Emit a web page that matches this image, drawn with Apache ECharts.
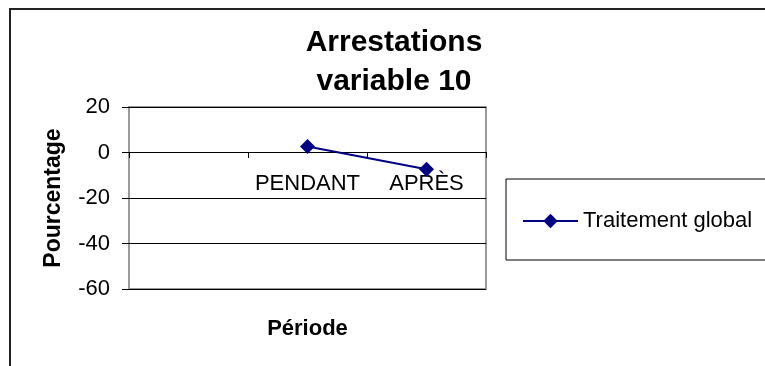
<!DOCTYPE html>
<html lang="fr">
  <head>
    <meta charset="UTF-8" />
    <title>Arrestations variable 10</title>
    <script src="https://cdn.jsdelivr.net/npm/echarts@6.0.0/dist/echarts.min.js"></script>
    <style>
      html, body { margin: 0; padding: 0; background: #fff; }
      #chart { width: 765px; height: 366px; }
    </style>
  </head>
  <body>
    <div id="chart"></div>
    <script>
      // données
      var periodes = ['', 'PENDANT', 'APRÈS']
      var traitementGlobal = [null, 2.6, -7.4]
      var serieNom = 'Traitement global'

      var police = '"Liberation Sans", Arial, sans-serif'
      var chart = echarts.init(document.getElementById('chart'))

      var option = {
        animation: false,
        textStyle: { fontFamily: police },
        title: {
          text: 'Arrestations\nvariable 10',
          left: 394,
          top: 23,
          padding: 0,
          textAlign: 'center',
          textStyle: { fontSize: 30, fontWeight: 'bold', color: '#000', lineHeight: 39, fontFamily: police }
        },
        graphic: [
          {
            // cadre extérieur
            type: 'rect',
            shape: { x: 10, y: 9, width: 800, height: 400 },
            style: { fill: 'none', stroke: '#222', lineWidth: 2 },
            silent: true
          }
        ],
        legend: {
          left: 506,
          top: 179,
          orient: 'vertical',
          data: [serieNom],
          itemWidth: 55,
          itemHeight: 18,
          padding: [31, 60, 28, 16],
          borderColor: '#000',
          borderWidth: 1,
          lineStyle: { width: 2 },
          textStyle: { fontSize: 22, color: '#000', fontFamily: police }
        },
        grid: {
          left: 129,
          right: 279,
          top: 107,
          bottom: 77,
          outerBoundsMode: 'none',
          containLabel: false,
          show: true,
          borderColor: '#999',
          borderWidth: 2,
          backgroundColor: 'transparent'
        },
        xAxis: {
          type: 'category',
          data: periodes,
          boundaryGap: true,
          position: 'bottom',
          offset: -137, // l'axe passe par 0
          name: 'Période',
          nameLocation: 'middle',
          nameGap: 166,
          nameTextStyle: { fontSize: 22, fontWeight: 'bold', color: '#000' },
          axisLine: { onZero: false, lineStyle: { color: '#000', width: 1 } },
          axisTick: { show: true, length: 6, interval: 0, lineStyle: { color: '#000' } },
          axisLabel: { fontSize: 22, color: '#000', margin: 21, interval: 0, hideOverlap: false },
          splitLine: { show: false }
        },
        yAxis: {
          type: 'value',
          min: -60,
          max: 20,
          interval: 20,
          name: 'Pourcentage',
          nameLocation: 'middle',
          nameRotate: 90,
          nameGap: 64,
          nameTextStyle: { fontSize: 23, fontWeight: 'bold', color: '#000' },
          axisLine: { show: false },
          axisTick: { show: true, length: 7, lineStyle: { color: '#000' } },
          axisLabel: { fontSize: 22, color: '#000', margin: 19 },
          splitLine: { show: true, lineStyle: { color: '#000', width: 1 } }
        },
        series: [
          {
            name: serieNom,
            type: 'line',
            data: traitementGlobal,
            symbol: 'diamond',
            symbolSize: 15,
            showSymbol: true,
            connectNulls: false,
            lineStyle: { color: '#000080', width: 2 },
            itemStyle: { color: '#000080' }
          }
        ]
      }
      chart.setOption(option)
    </script>
  </body>
</html>
